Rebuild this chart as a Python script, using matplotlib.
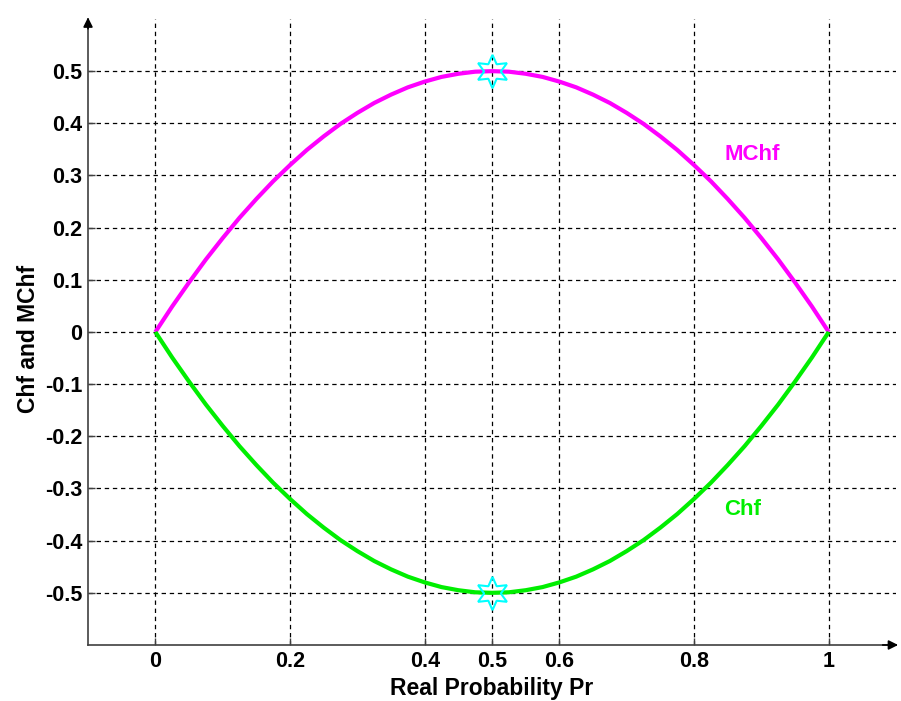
import matplotlib
matplotlib.use("Agg")
import matplotlib.pyplot as plt
from matplotlib.ticker import FixedLocator

plt.rcParams['font.family'] = ['Liberation Sans', 'DejaVu Sans']

# Real probability samples and the two curves
pr = [0.0, 0.025, 0.05, 0.075, 0.1, 0.125, 0.15, 0.175, 0.2, 0.225, 0.25,
      0.275, 0.3, 0.325, 0.35, 0.375, 0.4, 0.425, 0.45, 0.475, 0.5,
      0.525, 0.55, 0.575, 0.6, 0.625, 0.65, 0.675, 0.7, 0.725, 0.75,
      0.775, 0.8, 0.825, 0.85, 0.875, 0.9, 0.925, 0.95, 0.975, 1.0]
mchf = [0.0, 0.049, 0.095, 0.139, 0.18, 0.219, 0.255, 0.289, 0.32, 0.349, 0.375,
        0.399, 0.42, 0.439, 0.455, 0.469, 0.48, 0.489, 0.495, 0.499, 0.5,
        0.499, 0.495, 0.489, 0.48, 0.469, 0.455, 0.439, 0.42, 0.399, 0.375,
        0.349, 0.32, 0.289, 0.255, 0.219, 0.18, 0.139, 0.095, 0.049, 0.0]
chf = [0.0, -0.049, -0.095, -0.139, -0.18, -0.219, -0.255, -0.289, -0.32, -0.349, -0.375,
       -0.399, -0.42, -0.439, -0.455, -0.469, -0.48, -0.489, -0.495, -0.499, -0.5,
       -0.499, -0.495, -0.489, -0.48, -0.469, -0.455, -0.439, -0.42, -0.399, -0.375,
       -0.349, -0.32, -0.289, -0.255, -0.219, -0.18, -0.139, -0.095, -0.049, 0.0]

# Extreme points highlighted with star markers
peak_x = [0.5, 0.5]
peak_y = [0.5, -0.5]

x_ticks = [0, 0.2, 0.4, 0.5, 0.6, 0.8, 1]
x_tick_labels = ['0', '0.2', '0.4', '0.5', '0.6', '0.8', '1']
y_ticks = [-0.5, -0.4, -0.3, -0.2, -0.1, 0, 0.1, 0.2, 0.3, 0.4, 0.5]
y_tick_labels = ['-0.5', '-0.4', '-0.3', '-0.2', '-0.1', '0', '0.1', '0.2', '0.3', '0.4', '0.5']

fig = plt.figure(figsize=(9.01, 7.01), dpi=100)
ax = fig.add_axes([0.0977, 0.0799, 0.8968, 0.893])

ax.plot(pr, mchf, color='#ff00ff', lw=3.0, solid_capstyle='butt', zorder=3)
ax.plot(pr, chf, color='#00ee00', lw=3.0, solid_capstyle='butt', zorder=3)
ax.plot(peak_x, peak_y, linestyle='none', marker=(6, 1, 0), markersize=24,
        markerfacecolor='none', markeredgecolor='#00ffff', markeredgewidth=1.5, zorder=4)

ax.text(0.845, 0.34, 'MChf', color='#ff00ff', fontsize=16, fontweight='bold',
        ha='left', va='center')
ax.text(0.845, -0.34, 'Chf', color='#00ee00', fontsize=16, fontweight='bold',
        ha='left', va='center')

ax.set_xlim(-0.1, 1.1)
ax.set_ylim(-0.6, 0.6)
ax.xaxis.set_major_locator(FixedLocator(x_ticks))
ax.set_xticklabels(x_tick_labels)
ax.yaxis.set_major_locator(FixedLocator(y_ticks))
ax.set_yticklabels(y_tick_labels)

ax.grid(True, color='black', linestyle=(0, (3.5, 3)), linewidth=0.9)
ax.set_axisbelow(True)

for side in ('top', 'right'):
    ax.spines[side].set_visible(False)
for side in ('left', 'bottom'):
    ax.spines[side].set_color('#404040')
    ax.spines[side].set_linewidth(1.2)

ax.tick_params(direction='in', length=5, width=1.0, color='#404040',
               labelsize=15.5, pad=4)
for lbl in ax.get_xticklabels() + ax.get_yticklabels():
    lbl.set_fontweight('bold')

ax.set_xlabel('Real Probability Pr', fontsize=16.5, fontweight='bold', labelpad=4)
ax.set_ylabel('Chf and MChf', fontsize=16.5, fontweight='bold')
ax.yaxis.set_label_coords(-0.06, 0.489)

# Arrow heads at the ends of the axes
ax.annotate('', xy=(1.006, 0), xytext=(0.98, 0), xycoords='axes fraction',
            arrowprops=dict(arrowstyle='-|>', color='black', lw=1.2,
                            mutation_scale=14), annotation_clip=False)
ax.annotate('', xy=(0, 1.007), xytext=(0, 0.98), xycoords='axes fraction',
            arrowprops=dict(arrowstyle='-|>', color='black', lw=1.2,
                            mutation_scale=14), annotation_clip=False)

fig.savefig('out.png', dpi=100)
